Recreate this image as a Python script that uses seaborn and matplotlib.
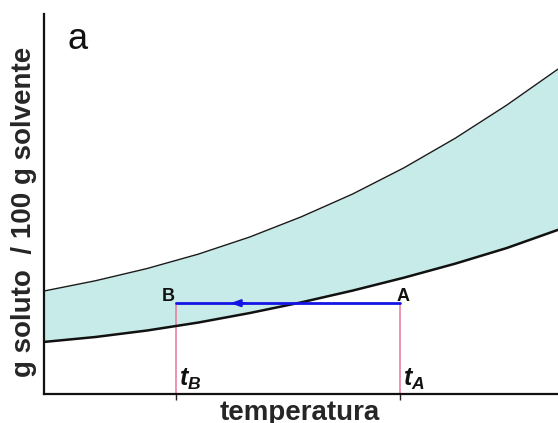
import numpy as np
import pandas as pd
import matplotlib
matplotlib.use("Agg")
import matplotlib.pyplot as plt
import seaborn as sns

# ---- data ----
temperature = [0, 10, 20, 30, 40, 50, 60, 70, 80, 90, 100]
upper_curve = [27.1, 29.8, 33.0, 36.8, 41.3, 46.6, 52.6, 59.5, 67.3, 76.0, 85.5]
lower_curve = [13.7, 15.0, 16.7, 18.8, 21.3, 24.1, 27.2, 30.6, 34.3, 38.4, 43.2]
t_B = 25.7
t_A = 69.2
cooling_level = 23.9
point_labels = ["B", "A"]
panel_label = "a"
x_label = "temperatura"
y_label = "g soluto  / 100 g solvente"

sns.set_style("white")
plt.rcParams['font.family'] = ['Liberation Sans', 'DejaVu Sans']
plt.rcParams['mathtext.fontset'] = 'custom'
plt.rcParams['mathtext.it'] = 'Liberation Sans:bold:italic'
plt.rcParams['mathtext.rm'] = 'Liberation Sans:bold'

df = pd.DataFrame({"T": temperature, "up": upper_curve, "lo": lower_curve})

fig = plt.figure(figsize=(5.58, 4.23), dpi=100)
ax = fig.add_axes([44 / 558, 29 / 423, 514 / 558, 380 / 423])

ax.fill_between(df["T"], df["lo"], df["up"], color="#c6ebe8", lw=0, zorder=1)
sns.lineplot(data=df, x="T", y="up", ax=ax, color="#1a1a1a", lw=1.0, zorder=3)
sns.lineplot(data=df, x="T", y="lo", ax=ax, color="#111111", lw=1.8, zorder=3)

# vertical pink lines
ax.plot([t_B, t_B], [0, cooling_level], color="#e8789a", lw=1.1, zorder=2, clip_on=False)
ax.plot([t_A, t_A], [0, cooling_level], color="#e8789a", lw=1.1, zorder=2, clip_on=False)
# blue cooling line
ax.plot([t_B, t_A], [cooling_level, cooling_level], color="#1414e6", lw=2.0, zorder=4)
ax.annotate("", xy=(t_B + 10.0, cooling_level), xytext=(t_B + 14.0, cooling_level),
            arrowprops=dict(arrowstyle="-|>,head_length=0.5,head_width=0.18",
                            color="#1414e6", lw=1.5, mutation_scale=12), zorder=5)

ax.text(t_B - 0.3, cooling_level + 0.6, point_labels[0], fontsize=13, fontweight="bold",
        ha="right", va="baseline", color="#111111")
ax.text(t_A - 0.6, cooling_level + 0.6, point_labels[1], fontsize=13, fontweight="bold",
        ha="left", va="baseline", color="#111111")

ax.text(t_B + 0.6, 0.6, r"$t_B$", fontsize=18, ha="left", va="bottom", color="#111111")
ax.text(t_A + 0.6, 0.6, r"$t_A$", fontsize=18, ha="left", va="bottom", color="#111111")

ax.text(4.5, 97.8, panel_label, fontsize=26, ha="left", va="top", color="#111111")

ax.set_xlim(0, 100)
ax.set_ylim(0, 100)
ax.set_xticks([t_B, t_A])
ax.set_xticklabels(["", ""])
ax.set_yticks([])
ax.tick_params(axis="x", direction="out", length=4, width=1, color="#222222", bottom=True)
ax.set_xlabel(x_label, fontsize=20, fontweight="bold")
ax.set_ylabel(y_label, fontsize=20, fontweight="bold")
ax.xaxis.set_label_coords(0.497, -0.016)
ax.yaxis.set_label_coords(-0.014, 0.48)

for s in ["top", "right"]:
    ax.spines[s].set_visible(False)
for s in ["left", "bottom"]:
    ax.spines[s].set_color("#111111")
    ax.spines[s].set_linewidth(1.6)

fig.savefig("out.png", dpi=100, facecolor="white")
